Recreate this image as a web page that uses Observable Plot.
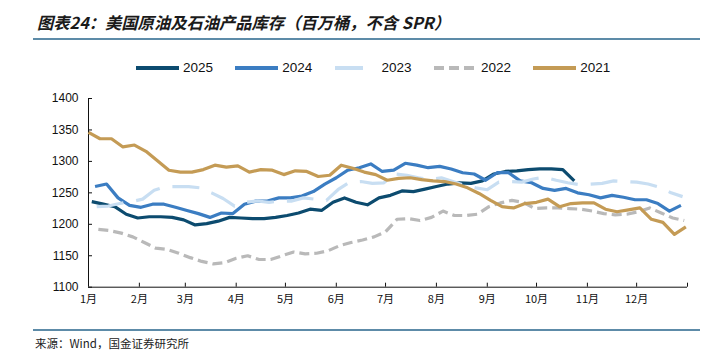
<!DOCTYPE html>
<html><head><meta charset="utf-8">
<script src="https://cdn.jsdelivr.net/npm/d3@7"></script>
<script src="https://cdn.jsdelivr.net/npm/@observablehq/plot@0.6"></script>
<style>
body{margin:0;background:#fff;}
#wrap{position:relative;width:707px;height:353px;overflow:hidden;font-family:"Liberation Sans",Arial,sans-serif;background:#fff;}
#title{position:absolute;left:37px;top:11px;font-family:"Noto Sans CJK SC";font-weight:bold;font-style:italic;font-size:16.3px;line-height:22px;color:#1a1a1a;white-space:nowrap;}
#tline{position:absolute;left:33px;top:38px;width:667px;height:2px;background:#5d8ba8;}
#legend{position:absolute;left:136px;top:58px;height:20px;white-space:nowrap;}
.item{display:inline-block;width:99.3px;height:20px;vertical-align:top;}
.item svg{vertical-align:middle;}
.item span{font-size:13.5px;color:#111;vertical-align:middle;margin-left:4px;}
#chart{position:absolute;left:0;top:85px;}
#bline{position:absolute;left:33px;top:329px;width:667px;height:2px;background:#5d8ba8;}
#caption{position:absolute;left:35px;top:335px;font-family:"Noto Sans CJK SC";font-size:11.5px;line-height:16px;color:#222;white-space:nowrap;}
</style></head>
<body>
<div id="wrap">
  <div id="title">图表24：美国原油及石油产品库存（百万桶，不含 SPR）</div>
  <div id="tline"></div>
  <div id="legend"></div>
  <div id="chart"></div>
  <div id="bline"></div>
  <div id="caption">来源：Wind，国金证券研究所</div>
</div>
<script>
// Series labels, colours and first weekly point (day of year)
const years = ["2025", "2024", "2023", "2022", "2021"];
const colors = ["#0c4b6f", "#3b7dc2", "#c8def2", "#b9b9b9", "#c49b55"];
const dashes = [null, null, "27,13", "10,5", null];
const legendDashes = [null, null, "28,20", "10,5", null];
const firstDays = [2, 4, 5, 6, 0];

// Weekly inventories (million barrels)
const v2025 = [1236,1232,1228,1216,1210,1212,1212,1211,1207,1199,1201,1205,1211,
  1210,1209,1209,1211,1214,1218,1224,1222,1235,1242,1235,1231,1242,1246,
  1253,1252,1256,1260,1264,1266,1265,1269,1280,1284,1285,1287,1288,
  1288,1287,1269];
const v2024 = [1260,1264,1242,1230,1227,1232,1232,1227,1222,1217,1211,1218,1217,
  1232,1237,1237,1242,1242,1245,1252,1264,1274,1286,1290,1296,1284,
  1286,1297,1294,1290,1292,1288,1282,1280,1270,1282,1282,1269,
  1266,1257,1254,1257,1250,1247,1242,1246,1243,1239,1239,1233,1221,1230];
const v2023 = [1228,1229,1233,1236,1240,1254,1260,1260,1260,1258,1250,1241,1229,
  1235,1237,1235,1237,1237,1242,1240,1238,1255,1267,1268,1265,1266,
  1280,1278,1274,1271,1274,1268,1262,1258,1255,1267,1268,1267,1272,
  1275,1270,1266,1263,1264,1265,1269,1268,1267,1264,1259,1250,1244];
const v2022 = [1192,1190,1186,1180,1171,1162,1160,1154,1147,1141,1137,1139,1146,
  1150,1144,1144,1150,1156,1153,1154,1158,1166,1171,1175,1180,1188,
  1208,1209,1206,1211,1221,1214,1214,1216,1228,1234,1238,1235,1225,
  1226,1226,1225,1224,1221,1217,1215,1216,1220,1226,1218,1210,1206];
const v2021 = [1346,1336,1336,1323,1326,1316,1301,1286,1283,1283,1287,1294,1291,1293,
  1283,1287,1286,1279,1285,1284,1276,1278,1294,1289,1283,1279,1270,
  1273,1274,1271,1269,1268,1264,1258,1249,1238,1228,1226,1233,1235,
  1240,1228,1233,1234,1234,1224,1220,1223,1226,1208,1203,1184,1196];
const series = [v2025, v2024, v2023, v2022, v2021];

// Axis ticks
const monthStarts = [0,31,59,90,120,151,181,212,243,273,304,334];
const monthLabels = ["1月","2月","3月","4月","5月","6月","7月","8月","9月","10月","11月","12月"];
const yTicks = [1100,1150,1200,1250,1300,1350,1400];
const yDomain = [1100, 1400];
const xDomain = [0, 365];

// Legend
const legend = document.getElementById("legend");
years.forEach((y, k) => {
  const it = document.createElement("div");
  it.className = "item";
  const dash = legendDashes[k] ? ` stroke-dasharray="${legendDashes[k]}"` : "";
  it.innerHTML = `<svg width="43" height="8"><line x1="0" x2="43" y1="4" y2="4" stroke="${colors[k]}" stroke-width="4"${dash} stroke-linecap="butt"/></svg><span>${y}</span>`;
  legend.appendChild(it);
});

const rows = [];
years.forEach((y, k) => series[k].forEach((v, i) => rows.push({year: y, k, day: firstDays[k] + 7 * i, value: v})));

const lineMarks = years.map((y, k) => Plot.line(rows.filter(r => r.year === y), {
  x: "day", y: "value", stroke: colors[k], strokeWidth: 3.2,
  strokeDasharray: dashes[k] || undefined, strokeLinejoin: "round", strokeLinecap: "butt"
}));

const chart = Plot.plot({
  width: 707, height: 225,
  marginLeft: 88, marginRight: 20, marginTop: 13, marginBottom: 23.3,
  style: {fontFamily: "Liberation Sans, Arial, sans-serif", fontSize: "12px", color: "#111", background: "transparent"},
  x: {domain: xDomain, label: null},
  y: {domain: yDomain, label: null},
  marks: [
    Plot.axisY({ticks: yTicks, tickSize: 0, tickPadding: 10, fontSize: 12, label: null, tickFormat: d => String(d)}),
    Plot.axisX({ticks: monthStarts, tickSize: 0, tickPadding: 8, fontSize: 11, label: null, fontFamily: "Noto Sans CJK SC",
      tickFormat: d => monthLabels[monthStarts.indexOf(d)]}),
    Plot.ruleY(yTicks, {y: d => d, x1: xDomain[0], x2: xDomain[0], insetRight: -4, stroke: "#111"}),
    Plot.ruleX([...monthStarts.slice(1), xDomain[1]], {x: d => d, y1: yDomain[0], y2: yDomain[0], insetTop: -4, stroke: "#111"}),
    Plot.ruleX([xDomain[0]], {y1: yDomain[0], y2: yDomain[1], stroke: "#111"}),
    Plot.ruleY([yDomain[0]], {x1: xDomain[0], x2: xDomain[1], stroke: "#111"}),
    ...lineMarks
  ]
});
document.getElementById("chart").appendChild(chart);
</script>
</body></html>
